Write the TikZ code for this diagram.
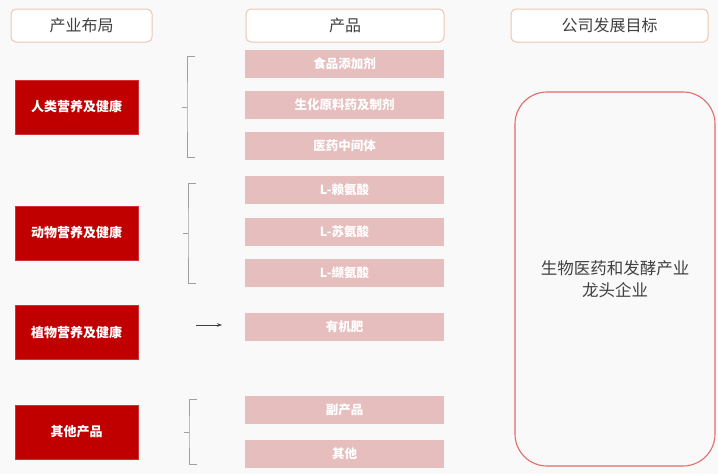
\documentclass[tikz,border=0pt]{standalone}
\usepackage{fontspec}
\setmainfont{Noto Sans CJK SC}
\usetikzlibrary{arrows.meta}
\definecolor{bgcol}{HTML}{F9F9F9}
\definecolor{headline}{HTML}{EBC7B2}
\definecolor{darkred}{HTML}{C00000}
\definecolor{pinkfill}{HTML}{E6BEBE}
\definecolor{goalline}{HTML}{E36A6A}
\definecolor{textgray}{HTML}{404040}
\begin{document}
\begin{tikzpicture}[
    x=1pt, y=-1pt,
    header/.style={rectangle, draw=headline, line width=1pt, fill=white, rounded corners=5pt, minimum height=33pt, text=textgray, font=\fontsize{16}{18}\selectfont},
    field/.style={rectangle, fill=darkred, draw=darkred!80, minimum width=123pt, minimum height=54pt, text=white, font=\fontsize{13}{15}\selectfont\bfseries},
    product/.style={rectangle, fill=pinkfill, minimum width=199pt, minimum height=28pt, text=white, font=\fontsize{12.5}{14}\selectfont\bfseries},
    brace/.style={draw=gray!75, line width=0.8pt},
    arrow/.style={-{Stealth[length=5pt,width=3.5pt]}, draw=textgray, line width=0.6pt}
]
    \fill[bgcol] (0,0) rectangle (718,474);
    \useasboundingbox (0,0) rectangle (718,474);

    % column headers
    \node[header, minimum width=141pt] (layout) at (81.5,25.5) {产业布局};
    \node[header, minimum width=198pt] (products) at (345,25.5) {产品};
    \node[header, minimum width=197pt] (goal) at (609.5,25.5) {公司发展目标};

    % business fields
    \node[field] (human) at (76.5,107) {人类营养及健康};
    \node[field] (animal) at (76.5,233) {动物营养及健康};
    \node[field] (plant) at (76.5,332.5) {植物营养及健康};
    \node[field] (other) at (76.5,432) {其他产品};

    % products
    \node[product] (food) at (344.5,63.5) {食品添加剂};
    \node[product] (biochem) at (344.5,105) {生化原料药及制剂};
    \node[product] (medint) at (344.5,146) {医药中间体};
    \node[product] (lys) at (344.5,190) {L-赖氨酸};
    \node[product] (thr) at (344.5,232) {L-苏氨酸};
    \node[product] (val) at (344.5,273) {L-缬氨酸};
    \node[product] (fert) at (344.5,327) {有机肥};
    \node[product] (byprod) at (344.5,410) {副产品};
    \node[product] (misc) at (344.5,453.5) {其他};

    % company goal
    \node[rectangle, draw=goalline, line width=1.1pt, rounded corners=32pt, minimum width=200pt, minimum height=374pt, align=center, text=textgray, font=\fontsize{16.5}{22}\selectfont] (target) at (615,279) {生物医药和发酵产业\\龙头企业};

    % brackets
    \coordinate (b1t) at (195,56);
    \coordinate (b1m) at (187,107);
    \coordinate (b1b) at (195,157);
    \coordinate (b2t) at (196,183);
    \coordinate (b2m) at (188,233);
    \coordinate (b2b) at (196,283);
    \coordinate (b3t) at (197,399);
    \coordinate (b3m) at (189,432);
    \coordinate (b3b) at (197,464);
    \coordinate (a1) at (196,325);
    \coordinate (a2) at (222,325);

    \draw[brace] (b1t) -| (b1m) |- (b1b);
    \draw[brace] (b1m) -- ++(-5,0);
    \draw[brace] (b2t) -| (b2m) |- (b2b);
    \draw[brace] (b2m) -- ++(-5,0);
    \draw[brace] (b3t) -| (b3m) |- (b3b);
    \draw[brace] (b3m) -- ++(-5,0);
    \draw[arrow] (a1) -- (a2);
\end{tikzpicture}
\end{document}
